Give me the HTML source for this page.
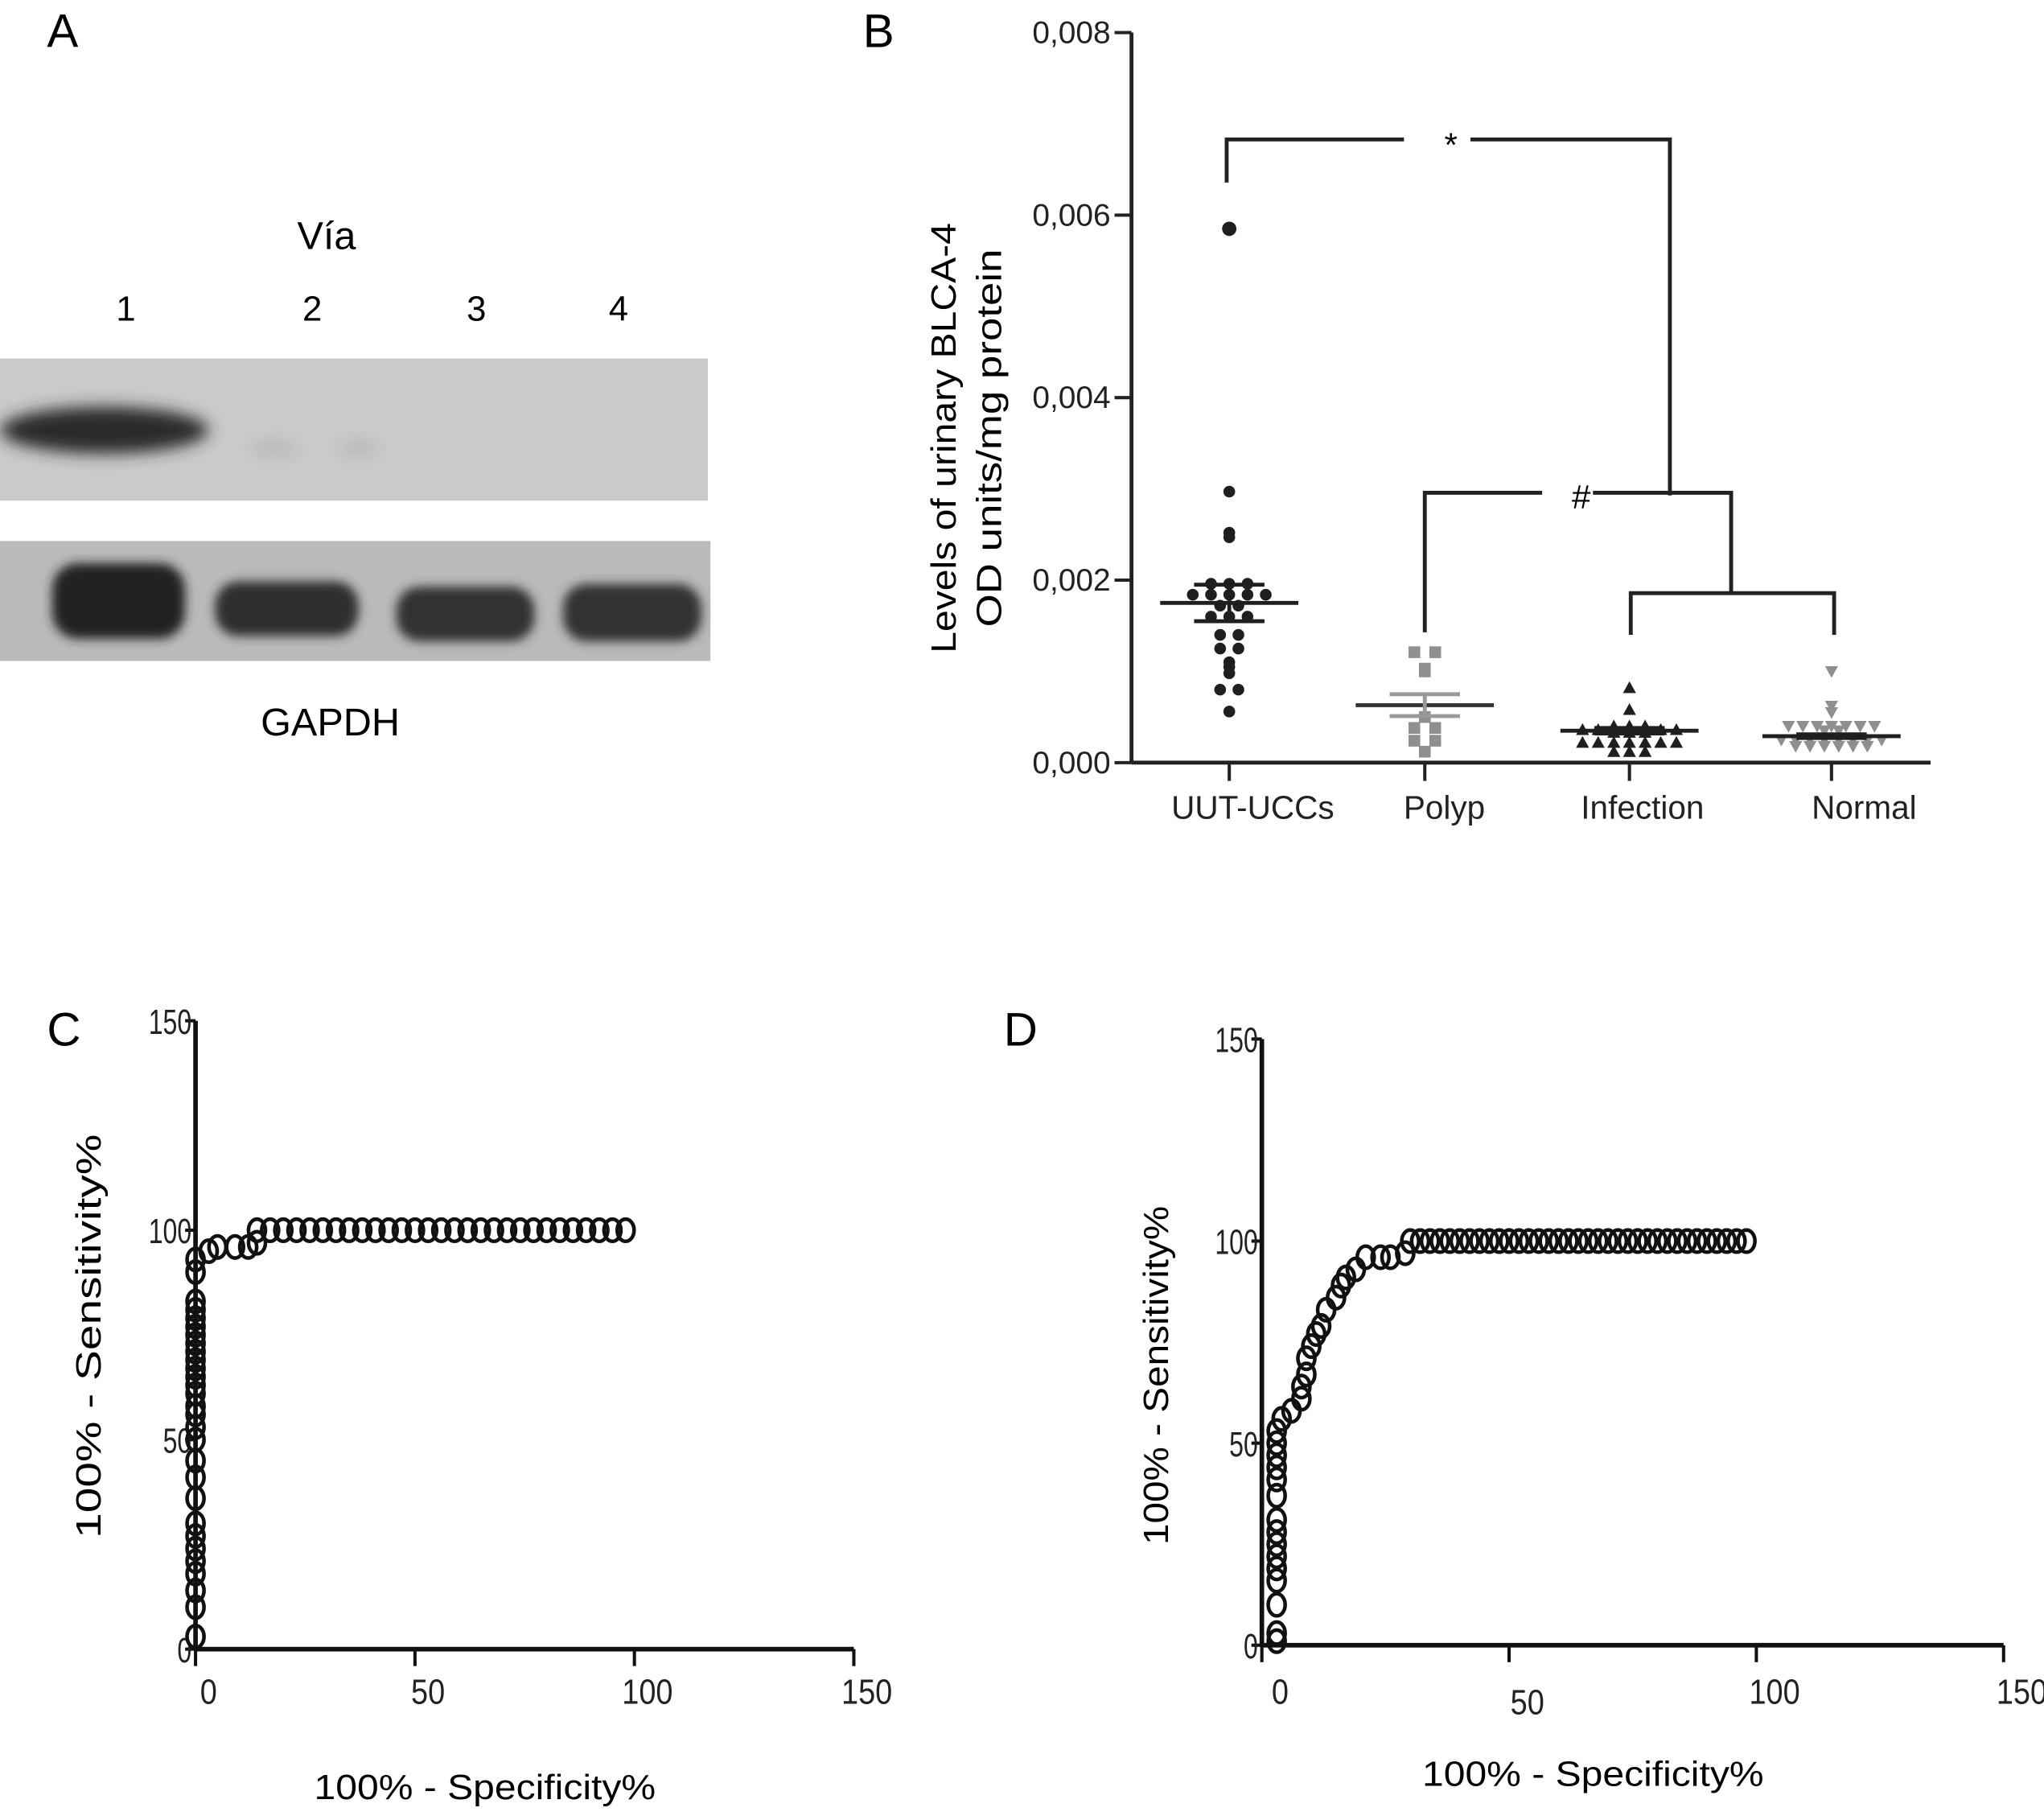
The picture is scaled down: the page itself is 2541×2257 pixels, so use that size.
<!DOCTYPE html>
<html><head><meta charset="utf-8"><style>
html,body{margin:0;padding:0;background:#fff;}
svg{display:block;font-family:"Liberation Sans",sans-serif;}
</style></head><body>
<svg id="fig" width="2541" height="2257" viewBox="0 0 1568 1393" preserveAspectRatio="none" xmlns="http://www.w3.org/2000/svg">
<defs>
<filter id="blur" x="-20%" y="-50%" width="140%" height="200%"><feGaussianBlur stdDeviation="6"/></filter>
<filter id="blur2" x="-20%" y="-50%" width="140%" height="200%"><feGaussianBlur stdDeviation="4"/></filter>
</defs>
<g>
<text x="36" y="36" font-size="36">A</text>
<text x="228" y="191" font-size="30">Vía</text>
<text x="89" y="246" font-size="27">1</text>
<text x="232" y="246" font-size="27">2</text>
<text x="358" y="246" font-size="27">3</text>
<text x="467" y="246" font-size="27">4</text>
<rect x="0" y="275" width="543" height="109" fill="#c9cacc"/>
<g filter="url(#blur)">
<ellipse cx="80" cy="330" rx="80" ry="18" fill="#2a2a2a"/>
<ellipse cx="210" cy="344" rx="18" ry="5" fill="#b4b5b7"/>
<ellipse cx="275" cy="344" rx="16" ry="5" fill="#b4b5b7"/>
</g>
<rect x="0" y="415" width="545" height="92" fill="#b9babc"/>
<g filter="url(#blur2)">
<rect x="40" y="432" width="102" height="58" rx="20" fill="#222"/>
<rect x="165" y="446" width="110" height="42" rx="18" fill="#2e2e2e"/>
<rect x="304" y="450" width="106" height="42" rx="18" fill="#303030"/>
<rect x="432" y="448" width="106" height="44" rx="18" fill="#323232"/>
</g>
<text x="200" y="564" font-size="30">GAPDH</text>
</g>
<g id="pb">
<text x="662" y="36" font-size="36">B</text>
<g transform="translate(733,336) rotate(-90)"><text x="0" y="0" font-size="27" text-anchor="middle" textLength="330" lengthAdjust="spacingAndGlyphs">Levels of urinary BLCA-4</text></g>
<g transform="translate(768,336) rotate(-90)"><text x="0" y="0" font-size="27" text-anchor="middle" textLength="290" lengthAdjust="spacingAndGlyphs">OD units/mg protein</text></g>
</g>
<g id="pc">
<text x="36" y="802" font-size="36">C</text>
<g transform="translate(77,1025) rotate(-90)"><text x="0" y="0" font-size="27" text-anchor="middle" textLength="310" lengthAdjust="spacingAndGlyphs">100% - Sensitivity%</text></g>
<text x="372" y="1380" font-size="27" text-anchor="middle" textLength="262" lengthAdjust="spacingAndGlyphs">100% - Specificity%</text>
</g>
<g id="pd">
<text x="770" y="802" font-size="36">D</text>
<g transform="translate(896,1055) rotate(-90)"><text x="0" y="0" font-size="27" text-anchor="middle" textLength="260" lengthAdjust="spacingAndGlyphs">100% - Sensitivity%</text></g>
<text x="1222" y="1370" font-size="27" text-anchor="middle" textLength="262" lengthAdjust="spacingAndGlyphs">100% - Specificity%</text>
</g>
</svg>
<script>
const bCategories = ["UUT-UCCs","Polyp","Infection","Normal"];
const bTicks = ["0,000","0,002","0,004","0,006","0,008"];
const uutValues = [0.00585,0.00297,0.00252,0.00247,0.00196,0.00196,0.00196,0.00184,0.00184,0.00184,0.00184,0.00184,0.00172,0.00172,0.00160,0.00160,0.00160,0.00140,0.00140,0.00125,0.00125,0.00110,0.00105,0.00098,0.00080,0.00080,0.00056];
const polypValues = [0.00121,0.00121,0.00100,0.00103,0.00050,0.00038,0.00038,0.00024,0.00024,0.00012];
const infectionValues = [0.00082,0.00058,0.00040,0.00040,0.00040,0.00036,0.00036,0.00036,0.00036,0.00036,0.00036,0.00036,0.00033,0.00033,0.00033,0.00022,0.00022,0.00022,0.00022,0.00022,0.00022,0.00022,0.00012,0.00012,0.00012];
const normalValues = [0.00100,0.00062,0.00055,0.00040,0.00040,0.00040,0.00040,0.00040,0.00040,0.00040,0.00035,0.00035,0.00025,0.00025,0.00025,0.00025,0.00025,0.00025,0.00025,0.00025,0.00018,0.00018,0.00018,0.00018,0.00018,0.00018];
const bMeans = [0.00175,0.00063,0.00035,0.00029];
const bSem = [0.00020,0.00012,0.00003,0.00002];
const cX = [0,0,0,0,0,0,0,0,0,0,0,0,0,0,0,0,0,0,0,0,0,0,0,0,0,0,0,0,0,3,5,9,12,14,14,17,20,23,26,29,32,35,38,41,44,47,50,53,56,59,62,65,68,71,74,77,80,83,86,89,92,95,98];
const cY = [3,10,14,18,21,24,27,30,36,41,45,50,53,56,58,61,63,65,67,69,71,73,75,77,79,81,83,90,93,95,96,96,96,97,100,100,100,100,100,100,100,100,100,100,100,100,100,100,100,100,100,100,100,100,100,100,100,100,100,100,100,100,100];
const dX = [3,3,3,3,3,3,3,3,3,3,3,3,3,3,3,4,6,8,8,9,9,10,11,12,13,15,16,17,19,21,24,26,29,30,32,34,36,38,40,42,44,46,48,50,52,54,56,58,60,62,64,66,68,70,72,74,76,78,80,82,84,86,88,90,92,94,96,98];
const dY = [1,3,10,16,19,22,25,28,31,37,41,44,47,50,53,56,58,61,64,67,71,74,77,79,83,86,89,91,93,96,96,96,97,100,100,100,100,100,100,100,100,100,100,100,100,100,100,100,100,100,100,100,100,100,100,100,100,100,100,100,100,100,100,100,100,100,100,100];
const rocTicks = [0,50,100,150];

const NS="http://www.w3.org/2000/svg";
function mk(tag, attrs, parent){const e=document.createElementNS(NS,tag);for(const k in attrs)e.setAttribute(k,attrs[k]);parent.appendChild(e);return e;}

const pb=document.getElementById('pb');
const bx0=868, by0=585, byTop=25;
const by=v=>by0-(v/0.008)*(by0-byTop);
const catX=[943,1093,1250,1405];
const bxc=i=>catX[i];
let e;
e=mk('line',{x1:bx0,y1:byTop,x2:bx0,y2:by0,stroke:'#222','stroke-width':3},pb);


e=mk('line',{x1:bx0,y1:by0,x2:1481,y2:by0,stroke:'#222','stroke-width':3},pb);


bTicks.forEach((t,i)=>{const v=i*0.002;const y=by(v);
 mk('line',{x1:bx0-13,y1:y,x2:bx0,y2:y,stroke:'#222','stroke-width':2.5},pb);
 const tx=mk('text',{x:bx0-16,y:y+8,'font-size':24,'text-anchor':'end',fill:'#222'},pb);tx.textContent=t;
 
 
});
bCategories.forEach((c,i)=>{const x=bxc(i);
 mk('line',{x1:x,y1:by0,x2:x,y2:by0+14,stroke:'#222','stroke-width':2.5},pb);
 const tx=mk('text',{x:x+(i==3?25:i==0?18:i==2?10:15),y:628,'font-size':25,'text-anchor':'middle',fill:'#222'},pb);tx.textContent=c;
 
 
});
const spacing=[14,16,12,11];
function jitter(vals,sp){const cnt={},idx={};vals.forEach(v=>cnt[v]=(cnt[v]||0)+1);
 return vals.map(v=>{idx[v]=(idx[v]||0);const n=cnt[v],k=idx[v]++;return (k-(n-1)/2)*sp;});}
const groups=[uutValues,polypValues,infectionValues,normalValues];
const colors=['#1f1f1f','#8f8f8f','#1f1f1f','#8f8f8f'];
groups.forEach((vals,gi)=>{const off=jitter(vals,spacing[gi]);
 vals.forEach((v,j)=>{const x=bxc(gi)+off[j],y=by(v);let m;
  if(gi==0){m=mk('circle',{cx:x,cy:y,r:j==0?5.5:4.5,fill:colors[gi]},pb);}
  else if(gi==1){m=mk('rect',{x:x-4.5,y:y-4.5,width:9,height:9,fill:colors[gi]},pb);}
  else if(gi==2){m=mk('polygon',{points:`${x},${y-5} ${x-5},${y+4} ${x+5},${y+4}`,fill:colors[gi]},pb);}
  else {m=mk('polygon',{points:`${x},${y+5} ${x-5},${y-4} ${x+5},${y-4}`,fill:colors[gi]},pb);}
  
  
 });
 const x=bxc(gi),mcol=gi==1?'#333':'#1f1f1f',scol=gi==1?'#999':'#1f1f1f';
 e=mk('line',{x1:x-53,y1:by(bMeans[gi]),x2:x+53,y2:by(bMeans[gi]),stroke:mcol,'stroke-width':3},pb);
 
 
 [1,-1].forEach(s=>{mk('line',{x1:x-27,y1:by(bMeans[gi]+s*bSem[gi]),x2:x+27,y2:by(bMeans[gi]+s*bSem[gi]),stroke:scol,'stroke-width':3},pb);});
 mk('line',{x1:x,y1:by(bMeans[gi]+bSem[gi]),x2:x,y2:by(bMeans[gi]-bSem[gi]),stroke:scol,'stroke-width':3},pb);
});
const bp='#222';
e=mk('polyline',{points:'941,140 941,107 1077,107',fill:'none',stroke:bp,'stroke-width':3},pb);


mk('polyline',{points:'1128,107 1281,107 1281,380',fill:'none',stroke:bp,'stroke-width':3},pb);
e=mk('text',{x:1113,y:120,'font-size':26,'text-anchor':'middle'},pb);e.textContent='*';


e=mk('polyline',{points:'1093,485 1093,378 1183,378',fill:'none',stroke:bp,'stroke-width':3},pb);


mk('polyline',{points:'1222,378 1328,378 1328,455',fill:'none',stroke:bp,'stroke-width':3},pb);
e=mk('text',{x:1213,y:390,'font-size':26,'text-anchor':'middle'},pb);e.textContent='#';


mk('polyline',{points:'1251,487 1251,455 1407,455 1407,487',fill:'none',stroke:bp,'stroke-width':3},pb);

function roc(g,x0,y0,yTop,xEnd,xLabelY,labOff,xs,ys,nm){
 const sx=v=>x0+v/150*(xEnd-x0), sy=v=>y0-v/150*(y0-yTop);
 let a=mk('line',{x1:x0,y1:yTop,x2:x0,y2:y0,stroke:'#111','stroke-width':3.5},g);
 
 
 a=mk('line',{x1:x0,y1:y0,x2:xEnd,y2:y0,stroke:'#111','stroke-width':3.5},g);
 
 
 rocTicks.forEach(t=>{
  mk('line',{x1:x0-8,y1:sy(t),x2:x0,y2:sy(t),stroke:'#111','stroke-width':2.5},g);
  let tx=mk('text',{x:x0-3,y:sy(t)+10,'font-size':27,'text-anchor':'end',fill:'#222',textLength:(String(t).length*11),lengthAdjust:'spacingAndGlyphs'},g);tx.textContent=t;
  
  
  mk('line',{x1:sx(t),y1:y0,x2:sx(t),y2:y0+13,stroke:'#111','stroke-width':2.5},g);
  tx=mk('text',{x:sx(t)+labOff,y:xLabelY+(nm=='d'&&t==50?8:0),'font-size':27,'text-anchor':'middle',fill:'#222',textLength:(String(t).length*13),lengthAdjust:'spacingAndGlyphs'},g);tx.textContent=t;
  
  
 });
 xs.forEach((v,i)=>{const c=mk('ellipse',{cx:sx(v),cy:sy(ys[i]),rx:6.5,ry:8.5,fill:'none',stroke:'#111','stroke-width':2.8},g);
  
  
 });
}
roc(document.getElementById('pc'),150,1265,783,655,1307,10,cX,cY,'c');
roc(document.getElementById('pd'),968,1262,797,1537,1307,14,dX,dY,'d');
</script>
</body></html>
